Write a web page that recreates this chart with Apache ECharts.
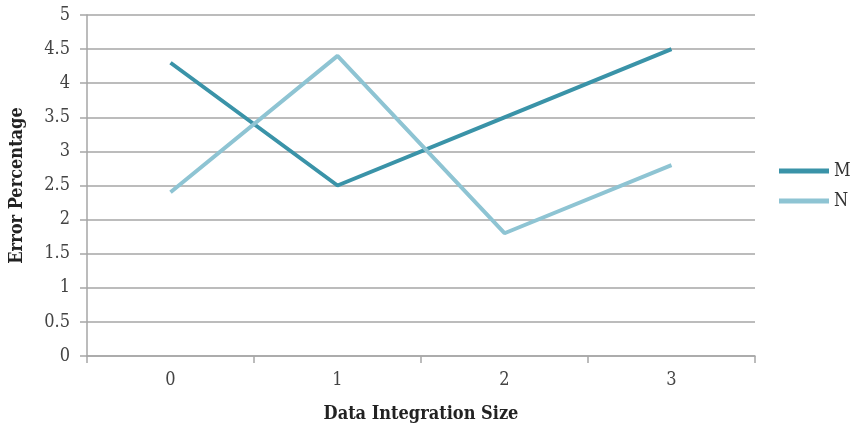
<!DOCTYPE html>
<html><head><meta charset="utf-8">
<script src="https://cdn.jsdelivr.net/npm/echarts@6/dist/echarts.min.js"></script>
<style>html,body{margin:0;padding:0;background:#fff}#c{width:859px;height:429px}</style>
</head><body><div id="c"></div>
<script>
const categories = ['0', '1', '2', '3'];
const seriesM = [4.3, 2.5, 3.5, 4.5];
const seriesN = [2.4, 4.4, 1.8, 2.8];
const seriesNames = ['M', 'N'];
const FONT = '"DejaVu Serif Condensed", "DejaVu Serif", serif';
const chart = echarts.init(document.getElementById('c'));
chart.setOption({
  animation: false,
  textStyle: { fontFamily: FONT },
  grid: { left: 87, right: 104, top: 15, bottom: 73 },
  legend: {
    orient: 'vertical', left: 774, top: 157,
    itemWidth: 50, itemHeight: 14, itemGap: 12,
    icon: 'path://M0,0 L10,0 L10,1 L0,1 Z',
    textStyle: { fontFamily: FONT, fontSize: 18, color: '#333' },
    data: seriesNames
  },
  xAxis: {
    type: 'category', data: categories, boundaryGap: true,
    name: 'Data Integration Size', nameLocation: 'middle', nameGap: 49,
    nameTextStyle: { fontFamily: FONT, fontSize: 18, fontWeight: 'bold', color: '#222' },
    axisLine: { lineStyle: { color: '#a6a6a6', width: 1.5 } },
    axisTick: { show: true, length: 7, alignWithLabel: false, lineStyle: { color: '#a6a6a6', width: 1.5 } },
    axisLabel: { fontFamily: FONT, fontSize: 18, color: '#444', margin: 15 }
  },
  yAxis: {
    type: 'value', min: 0, max: 5, interval: 0.5,
    name: 'Error Percentage', nameLocation: 'middle', nameGap: 61, nameRotate: 90,
    nameTextStyle: { fontFamily: FONT, fontSize: 18, fontWeight: 'bold', color: '#222' },
    axisLine: { show: true, lineStyle: { color: '#a6a6a6', width: 1.5 } },
    axisTick: { show: true, length: 7, lineStyle: { color: '#a6a6a6', width: 1.5 } },
    axisLabel: { fontFamily: FONT, fontSize: 18, color: '#444', margin: 17 },
    splitLine: { show: true, lineStyle: { color: '#a6a6a6', width: 1.5 } }
  },
  series: [
    { name: seriesNames[0], type: 'line', data: seriesM, symbol: 'none',
      lineStyle: { color: '#3a93a8', width: 4 }, itemStyle: { color: '#3a93a8' } },
    { name: seriesNames[1], type: 'line', data: seriesN, symbol: 'none',
      lineStyle: { color: '#8ec4d3', width: 4 }, itemStyle: { color: '#8ec4d3' } }
  ]
});
</script></body></html>
